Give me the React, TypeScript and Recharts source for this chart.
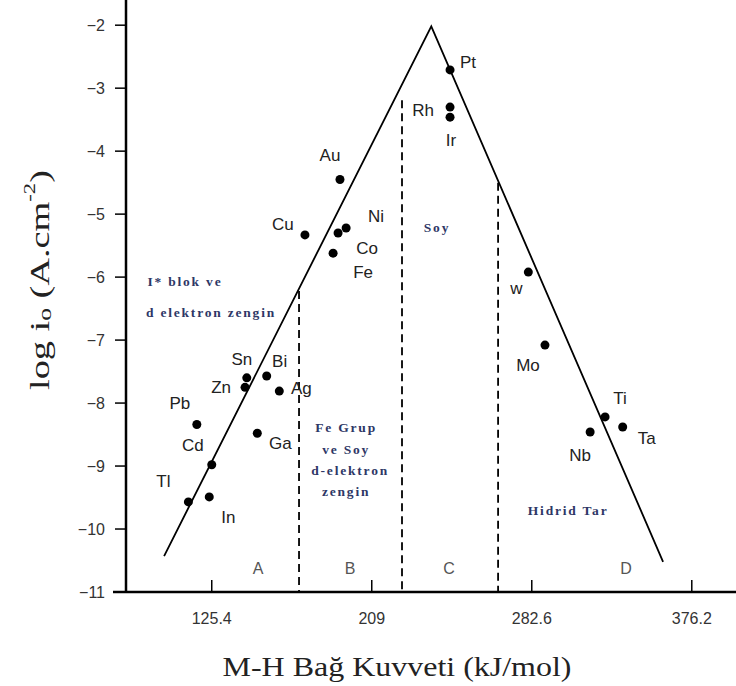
import React from "react";
import {
  ComposedChart,
  XAxis,
  YAxis,
  Scatter,
  Line,
  ReferenceLine,
} from "recharts";

// ---------- data ----------
const elementLabels = ["Pt", "Rh", "Ir", "Au", "Cu", "Ni", "Co", "Fe", "Sn", "Zn", "Bi", "Ag", "Pb", "Ga", "Cd", "Tl", "In", "w", "Mo", "Ti", "Ta", "Nb"];
const bondStrength = [249.9, 249.9, 249.9, 192.4, 174.1, 195.6, 191.4, 188.8, 143.7, 142.8, 154.1, 160.7, 117.6, 149.2, 125.4, 113.2, 124.1, 290.8, 299.5, 330.9, 340.1, 323.1];
const logI0 = [-2.71, -3.3, -3.46, -4.45, -5.33, -5.22, -5.3, -5.62, -7.6, -7.75, -7.57, -7.81, -8.34, -8.48, -8.98, -9.57, -9.49, -5.92, -7.08, -8.22, -8.38, -8.46];

// volcano envelope
const volcanoX = [100.5, 240.1, 361.2];
const volcanoY = [-10.43, -2.02, -10.52];

// dashed region boundaries
const boundaryX = [171.0, 224.8, 275.0];
const boundaryTop = [-6.22, -3.19, -4.5];

const xTicks = [125.4, 209, 292.6, 376.2];
const xTickLabels = ["125.4", "209", "282.6", "376.2"];
const yTicks = [-11, -10, -9, -8, -7, -6, -5, -4, -3, -2];

const regionLetters = ["A", "B", "C", "D"];
const regionX = [149.6, 197.7, 249.4, 341.9];
const regionY = [-10.62, -10.62, -10.62, -10.62];

const noteTexts = ["I* blok ve", "d elektron zengin", "Fe Grup", "ve Soy", "d-elektron", "zengin", "Soy", "Hidrid Tar"];
const noteX = [111.4, 125.0, 195.6, 195.6, 197.7, 195.6, 243.1, 311.6];
const noteY = [-6.07, -6.56, -8.39, -8.73, -9.07, -9.4, -5.22, -9.7];

const xTitle = "M-H Bağ Kuvveti (kJ/mol)";

// ---------- layout (label offsets in px, not data) ----------
const labelOffsets: Record<string, [number, number]> = {
  Pt: [18, -7], Rh: [-27, 3], Ir: [1, 23], Au: [-10, -24], Cu: [-22, -10],
  Ni: [30, -11], Co: [29, 15], Fe: [30, 19], Sn: [-5, -18], Zn: [-24, 0],
  Bi: [13, -14], Ag: [22, -3], Pb: [-17, -21], Ga: [23, 10], Cd: [-19, -19],
  Tl: [-25, -20], In: [19, 21], w: [-12, 16], Mo: [-17, 20], Ti: [15, -18],
  Ta: [24, 12], Nb: [-10, 23],
};

const elements = elementLabels.map((n, i) => ({ x: bondStrength[i], y: logI0[i], name: n }));
const volcano = volcanoX.map((x, i) => ({ x, y: volcanoY[i] }));
const regions = regionLetters.map((t, i) => ({ x: regionX[i], y: regionY[i], name: t }));
const notes = noteTexts.map((t, i) => ({ x: noteX[i], y: noteY[i], name: t }));

const SANS = "Arial, 'Liberation Sans', Helvetica, sans-serif";
const SERIF = "'Times New Roman', 'Liberation Serif', serif";
const TICK_MARGIN = 10;

const ElementShape = (props: any) => {
  const { cx, cy, payload } = props;
  const off = labelOffsets[payload.name] || [0, 0];
  return (
    <g>
      <circle cx={cx} cy={cy} r={4.5} fill="#000" />
      <text
        x={cx + off[0]}
        y={cy + off[1]}
        textAnchor="middle"
        dominantBaseline="central"
        fontFamily={SANS}
        fontSize={17}
        fill="#222"
      >
        {payload.name}
      </text>
    </g>
  );
};

const RegionShape = (props: any) => {
  const { cx, cy, payload } = props;
  return (
    <text x={cx} y={cy} textAnchor="middle" dominantBaseline="central" fontFamily={SANS} fontSize={16} fill="#555">
      {payload.name}
    </text>
  );
};

const NoteShape = (props: any) => {
  const { cx, cy, payload } = props;
  return (
    <text
      x={cx}
      y={cy}
      textAnchor="middle"
      dominantBaseline="central"
      fontFamily={SERIF}
      fontWeight="bold"
      fontSize={13.5}
      letterSpacing={1.8}
      fill="#2e3766"
    >
      {payload.name}
    </text>
  );
};

const XTick = (props: any) => {
  const { x, y, payload } = props;
  const axisY = y - TICK_MARGIN;
  const idx = xTicks.indexOf(payload.value);
  return (
    <g>
      <line x1={x} x2={x} y1={axisY} y2={axisY - 12} stroke="#000" strokeWidth={1.5} />
      <text x={x} y={axisY + 26} textAnchor="middle" dominantBaseline="central" fontFamily={SANS} fontSize={16} fill="#333">
        {idx >= 0 ? xTickLabels[idx] : payload.value}
      </text>
    </g>
  );
};

const YTitle = () => (
  <text
    transform="translate(40,280) rotate(-90)"
    textAnchor="middle"
    dominantBaseline="central"
    fontFamily={SERIF}
    fontSize={27}
    fill="#222"
    textLength={220}
    lengthAdjust="spacingAndGlyphs"
  >
    log i
    <tspan fontSize={18} dy={5}>o</tspan>
    <tspan dy={-5}> (A.cm</tspan>
    <tspan fontSize={16} dy={-11}>-2</tspan>
    <tspan dy={11}>)</tspan>
  </text>
);

const XTitle = () => (
  <text
    x={397}
    y={667}
    textAnchor="middle"
    dominantBaseline="central"
    fontFamily={SERIF}
    fontSize={27}
    fill="#222"
    textLength={349}
    lengthAdjust="spacingAndGlyphs"
  >
    {xTitle}
  </text>
);

export default function App() {
  return (
    <div style={{ position: "absolute", left: 0, top: 0, width: 736, height: 686, background: "#fff" }}>
      <ComposedChart width={736} height={686} margin={{ top: 0, right: 0, left: 66, bottom: 0 }}>
        <XAxis
          type="number"
          dataKey="x"
          domain={[80.6, 399.3]}
          allowDataOverflow
          ticks={xTicks}
          height={94}
          tickSize={0}
          tickLine={false}
          tickMargin={TICK_MARGIN}
          tick={<XTick />}
          axisLine={{ stroke: "#000", strokeWidth: 2.5 }}
          label={<XTitle />}
        />
        <YAxis
          type="number"
          dataKey="y"
          domain={[-11, -1.6]}
          allowDataOverflow
          ticks={yTicks}
          width={60}
          tickSize={11}
          tickMargin={10}
          tickLine={{ stroke: "#000", strokeWidth: 1.5 }}
          axisLine={{ stroke: "#000", strokeWidth: 2.5 }}
          tick={{ fill: "#333", fontSize: 16, fontFamily: SANS }}
          tickFormatter={(v: number) => (v < 0 ? "\u2212" + Math.abs(v) : String(v))}
          label={<YTitle />}
        />
        <ReferenceLine
          segment={[{ x: 73.8, y: -11 }, { x: 80.6, y: -11 }]}
          stroke="#000"
          strokeWidth={2.5}
          ifOverflow="visible"
        />
        {boundaryX.map((bx, i) => (
          <ReferenceLine
            key={"b" + i}
            segment={[{ x: bx, y: boundaryTop[i] }, { x: bx, y: -11 }]}
            stroke="#000"
            strokeWidth={1.8}
            strokeDasharray="8 5"
          />
        ))}
        <Line
          data={volcano}
          dataKey="y"
          type="linear"
          stroke="#000"
          strokeWidth={1.8}
          dot={false}
          activeDot={false}
          isAnimationActive={false}
        />
        <Scatter data={regions} shape={<RegionShape />} isAnimationActive={false} />
        <Scatter data={notes} shape={<NoteShape />} isAnimationActive={false} />
        <Scatter data={elements} shape={<ElementShape />} isAnimationActive={false} />
      </ComposedChart>
    </div>
  );
}
